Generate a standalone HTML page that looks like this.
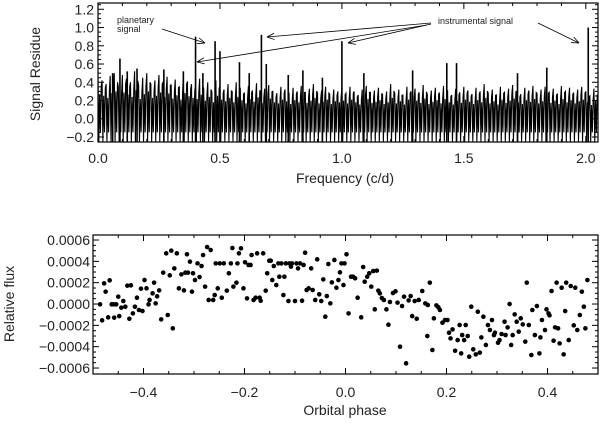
<!DOCTYPE html>
<html><head><meta charset="utf-8"><style>
body{margin:0;background:#fff;}
svg text{font-family:"Liberation Sans",sans-serif;fill:#222;}
</style></head><body>
<svg id="fig" width="600" height="419" xmlns="http://www.w3.org/2000/svg"></svg>
<script>
// ---------- Top panel data ----------
const binStep = 2.05/123;
const noiseMax = [0.45,0.42,0.38,0.47,0.50,0.35,0.48,0.44,0.40,0.52,0.36,0.45,0.50,0.38,0.42,0.48,0.40,0.46,0.37,0.43,0.35,0.47,0.41,0.38,
0.36,0.44,0.33,0.40,0.30,0.42,0.35,0.32,0.38,0.30,0.40,0.34,0.28,0.36,0.31,0.39,0.29,0.33,0.37,0.30,0.28,0.35,0.32,0.27,0.34,0.30,0.36,0.29,0.33,0.38,0.28,0.31,0.35,0.27,0.32,0.30,
0.33,0.28,0.35,0.30,0.26,0.32,0.36,0.29,0.31,0.34,0.27,0.30,0.38,0.28,0.32,0.26,0.35,0.30,0.33,0.29,0.37,0.27,0.31,0.34,0.28,0.36,0.30,0.26,0.33,0.29,0.35,0.31,0.27,0.34,0.30,0.38,0.28,0.32,0.26,0.35,0.29,0.33,0.37,0.30,0.27,0.34,0.31,0.36,0.28,0.32,0.35,0.29,0.33,0.27,0.36,0.30,0.34,0.28,0.32,0.35,0.30,0.25,0.33];
const peakFreq = [0.06,0.09,0.12,0.16,0.27,0.35,0.40,0.43,0.48,0.50,0.58,0.62,0.67,0.69,0.78,0.84,0.92,1.00,1.09,1.29,1.43,1.47,1.72,1.84,2.01];
const peakVal  = [0.50,0.66,0.52,0.55,0.54,0.52,0.90,0.50,0.85,0.74,0.62,0.50,0.92,0.60,0.48,0.53,0.45,0.85,0.50,0.53,0.61,0.61,0.50,0.56,1.00];
const topYTicks = [-0.2,0.0,0.2,0.4,0.6,0.8,1.0,1.2];
const topXTicks = [0.0,0.5,1.0,1.5,2.0];

// ---------- Bottom panel data ----------
const phase = [-0.486,-0.482,-0.478,-0.475,-0.467,-0.470,-0.463,-0.459,-0.458,-0.454,-0.450,-0.448,-0.444,-0.440,-0.436,-0.432,-0.428,-0.425,-0.421,-0.417,-0.413,-0.409,-0.405,-0.402,-0.398,-0.394,-0.390,-0.388,-0.382,-0.379,-0.376,-0.373,-0.369,-0.365,-0.361,-0.355,-0.352,-0.348,-0.345,-0.342,-0.339,-0.334,-0.330,-0.325,-0.320,-0.317,-0.314,-0.312,-0.308,-0.304,-0.302,-0.298,-0.293,-0.289,-0.285,-0.282,-0.278,-0.274,-0.271,-0.267,-0.262,-0.259,-0.257,-0.253,-0.249,-0.245,-0.241,-0.235,-0.231,-0.227,-0.224,-0.222,-0.216,-0.214,-0.211,-0.207,-0.202,-0.199,-0.195,-0.192,-0.188,-0.186,-0.182,-0.178,-0.175,-0.170,-0.168,-0.163,-0.158,-0.155,-0.151,-0.148,-0.145,-0.142,-0.137,-0.133,-0.131,-0.127,-0.123,-0.121,-0.118,-0.113,-0.111,-0.108,-0.106,-0.100,-0.097,-0.094,-0.090,-0.086,-0.083,-0.080,-0.077,-0.073,-0.068,-0.065,-0.060,-0.056,-0.052,-0.048,-0.044,-0.040,-0.037,-0.034,-0.030,-0.027,-0.022,-0.018,-0.014,-0.011,-0.008,-0.004,-0.002,0.002,0.006,0.011,0.015,0.019,0.024,0.031,0.035,0.038,0.043,0.047,0.051,0.055,0.058,0.062,0.065,0.068,0.072,0.076,0.081,0.085,0.088,0.094,0.099,0.103,0.108,0.112,0.116,0.120,0.125,0.129,0.132,0.137,0.141,0.145,0.152,0.158,0.162,0.163,0.167,0.172,0.175,0.180,0.184,0.187,0.192,0.197,0.202,0.205,0.208,0.212,0.217,0.222,0.226,0.229,0.231,0.235,0.238,0.242,0.245,0.249,0.253,0.258,0.262,0.266,0.269,0.273,0.278,0.282,0.286,0.290,0.294,0.296,0.302,0.305,0.309,0.315,0.317,0.321,0.325,0.328,0.331,0.335,0.339,0.343,0.347,0.351,0.356,0.359,0.363,0.368,0.370,0.375,0.379,0.384,0.386,0.389,0.395,0.398,0.402,0.404,0.408,0.412,0.415,0.418,0.421,0.424,0.428,0.432,0.435,0.437,0.442,0.446,0.452,0.455,0.459,0.464,0.468,0.472,0.475,0.479];
const flux = [-0.03,-1.53,1.94,1.16,2.22,-1.25,-0.03,-0.03,-1.28,-0.03,0.69,-1.13,-0.34,0.28,-0.25,1.72,-1.38,1.75,-0.88,-0.25,0.59,-0.56,1.44,-0.66,2.25,1.47,-0.03,0.38,1.0,2.0,0.06,0.72,1.28,-1.44,2.94,4.75,-1.03,2.69,5.0,-2.28,3.34,4.75,1.47,2.78,1.28,2.94,4.66,2.94,3.97,1.16,2.88,2.25,3.81,2.53,3.56,4.59,1.63,5.34,0.38,5.06,0.38,0.84,3.81,1.47,3.81,0.59,3.81,1.25,2.88,3.81,5.25,1.63,2.0,3.81,4.75,5.22,1.47,3.91,0.53,3.66,3.66,4.59,0.38,0.59,4.75,0.59,0.31,4.75,1.25,2.88,4.06,4.06,2.25,3.56,1.78,3.81,2.56,3.81,0.84,2.56,3.81,0.28,3.81,3.5,3.81,0.28,3.81,3.34,3.81,0.31,3.66,4.81,1.31,1.47,3.34,1.31,0.38,4.19,0.91,0.28,2.31,-1.19,0.75,3.75,0.06,2.03,4.13,1.53,2.25,2.97,3.81,1.78,3.81,4.66,-0.88,2.56,2.56,2.41,0.59,-1.25,3.47,2.09,2.56,2.88,1.63,3.09,-0.5,3.13,1.25,1.0,0.56,0.38,-0.5,-1.94,0.19,1.03,1.19,0.13,-4.0,-0.19,0.69,-5.56,0.34,0.75,-1.13,0.28,-1.38,0.38,1.22,0.06,-3.0,-0.09,2.0,-4.31,-1.34,-0.13,-0.31,-0.56,-1.75,-1.5,-1.5,-2.69,-3.22,-2.38,-4.38,-3.38,-1.97,-4.63,-2.91,-3.38,-1.97,-3.0,-4.94,-0.25,-4.25,-4.72,-0.72,-4.56,-3.13,-1.19,-3.84,-1.97,-2.44,-1.5,-2.91,-2.69,-3.63,-3.38,-2.81,-1.66,-2.91,-2.19,0,-3.84,-2.91,-0.97,-1.66,-2.59,-1.34,-1.91,-3.53,2.0,-1.97,-4.78,-0.56,-2.91,-0.19,-4.63,-3.13,-1.5,-2.44,-0.5,-0.88,-1.06,1.22,-3.44,-2.19,2.0,-2.28,-3.69,1.53,-4.72,-0.66,2.0,-3.38,1.69,-2.0,1.53,-2.44,-1.03,1.16,-0.25,-2.28,2.25];
const botYTicks = [-6,-4,-2,0,2,4,6];
const botYLabels = ["\u22120.0006","\u22120.0004","\u22120.0002","0.0000","0.0002","0.0004","0.0006"];
const botXTicks = [-0.4,-0.2,0.0,0.2,0.4];

const NS="http://www.w3.org/2000/svg";
const svg=document.getElementById('fig');
function el(tag,attrs,parent){const e=document.createElementNS(NS,tag);for(const k in attrs)e.setAttribute(k,attrs[k]);(parent||svg).appendChild(e);return e;}
function fmt(v,d){const s=Math.abs(v).toFixed(d);return (v<0?"\u2212":"")+s;}

// ---- Top axes ----
const T={l:98,r:598,t:3,b:142,x0:0,x1:2.05,y0:-0.255,y1:1.269};
const tx=v=>T.l+(v-T.x0)/(T.x1-T.x0)*(T.r-T.l);
const ty=v=>T.b-(v-T.y0)/(T.y1-T.y0)*(T.b-T.t);
const gTop=el('g',{});


let pts=[];
for(let i=0;i<noiseMax.length;i++){
  const f=i*binStep, w=(tx(binStep)-tx(0));
  const m=noiseMax[i];
  pts.push(tx(f)+','+ty(m));
  pts.push((tx(f)+w*0.2)+','+ty(-0.25));
  pts.push((tx(f)+w*0.4)+','+ty(m*0.6));
  pts.push((tx(f)+w*0.6)+','+ty(-0.15));
  pts.push((tx(f)+w*0.8)+','+ty(m*0.8));
}
const sig=el('polyline',{points:pts.join(' '),fill:'none',stroke:'#000','stroke-width':1.1},gTop);


for(let i=0;i<peakFreq.length;i++){
  const pk=el('line',{x1:tx(peakFreq[i]),x2:tx(peakFreq[i]),y1:ty(-0.25),y2:ty(peakVal[i]),stroke:'#000','stroke-width':1.6},gTop);
  
  
}
function frame(P,parent){
  const r=el('rect',{x:P.l,y:P.t,width:P.r-P.l,height:P.b-P.t,fill:'none',stroke:'#000','stroke-width':1.2},parent);
  
  
}
el('rect',{x:0,y:0,width:T.l,height:150,fill:'#fff'},gTop);
el('rect',{x:T.r,y:0,width:2,height:150,fill:'#fff'},gTop);
frame(T,gTop);
for(let k=-4;k<=25;k++){const v=k*0.05;const y=ty(v);const maj=(k%4===0);const L=maj?6:3;
  el('line',{x1:T.l,x2:T.l+L,y1:y,y2:y,stroke:'#000'},gTop);el('line',{x1:T.r,x2:T.r-L,y1:y,y2:y,stroke:'#000'},gTop);}
for(let k=0;k<=20;k++){const v=k*0.1;const x=tx(v);const maj=(k%5===0);const L=maj?6:3;
  el('line',{x1:x,x2:x,y1:T.b,y2:T.b-L,stroke:'#000'},gTop);el('line',{x1:x,x2:x,y1:T.t,y2:T.t+L,stroke:'#000'},gTop);}
topYTicks.forEach(v=>{const t=el('text',{x:T.l-4,y:ty(v)+5,'text-anchor':'end','font-size':14},gTop);t.textContent=fmt(v,1);
  });
topXTicks.forEach(v=>{const t=el('text',{x:tx(v),y:163,'text-anchor':'middle','font-size':14},gTop);t.textContent=fmt(v,1);
  });
let a=el('text',{x:0,y:0,'text-anchor':'middle','font-size':14,transform:'translate(40,74) rotate(-90)'},gTop);a.textContent='Signal Residue';

a=el('text',{x:345,y:183,'text-anchor':'middle','font-size':14},gTop);a.textContent='Frequency (c/d)';

const ann=el('g',{},gTop);


a=el('text',{x:117,y:23,'font-size':9},ann);a.textContent='planetary';

a=el('text',{x:117,y:32,'font-size':9},ann);a.textContent='signal';
a=el('text',{x:438,y:24,'font-size':9},ann);a.textContent='instrumental signal';

function arrow(x1,y1,x2,y2){
  el('line',{x1,y1,x2,y2,stroke:'#000','stroke-width':0.8},ann);
  const ang=Math.atan2(y2-y1,x2-x1),L=8,s=0.4;
  [ang+Math.PI-s,ang+Math.PI+s].forEach(b=>el('line',{x1:x2,y1:y2,x2:x2+L*Math.cos(b),y2:y2+L*Math.sin(b),stroke:'#000','stroke-width':0.8},ann));
}
arrow(162,29,205,43);arrow(431,23,267,37);arrow(431,24,348,43);arrow(427,25,197,62);arrow(538,23,579,43);

// ---- Bottom axes ----
const B={l:93,r:598,t:235,b:374,x0:-0.5,x1:0.5,y0:-6.56,y1:6.47};
const bx=v=>B.l+(v-B.x0)/(B.x1-B.x0)*(B.r-B.l);
const by=v=>B.b-(v-B.y0)/(B.y1-B.y0)*(B.b-B.t);
const gB=el('g',{});


frame(B,gB);
for(let k=-12;k<=12;k++){const v=k*0.5;const y=by(v);const maj=(k%4===0);const L=maj?6:3;
  el('line',{x1:B.l,x2:B.l+L,y1:y,y2:y,stroke:'#000'},gB);el('line',{x1:B.r,x2:B.r-L,y1:y,y2:y,stroke:'#000'},gB);}
for(let k=-10;k<=10;k++){const v=k*0.05;const x=bx(v);const maj=(k%4===0);const L=maj?6:3;
  el('line',{x1:x,x2:x,y1:B.b,y2:B.b-L,stroke:'#000'},gB);el('line',{x1:x,x2:x,y1:B.t,y2:B.t+L,stroke:'#000'},gB);}
botYTicks.forEach((v,i)=>{const t=el('text',{x:B.l-3,y:by(v)+5,'text-anchor':'end','font-size':14},gB);t.textContent=botYLabels[i];
  });
botXTicks.forEach(v=>{const t=el('text',{x:bx(v),y:397,'text-anchor':'middle','font-size':14},gB);t.textContent=fmt(v,1);
  });
a=el('text',{x:0,y:0,'text-anchor':'middle','font-size':14,transform:'translate(14,304) rotate(-90)'},gB);a.textContent='Relative flux';

a=el('text',{x:345,y:415,'text-anchor':'middle','font-size':14},gB);a.textContent='Orbital phase';

for(let i=0;i<phase.length;i++){
  const c=el('circle',{cx:bx(phase[i]),cy:by(flux[i]),r:2.3,fill:'#000'},gB);
  
  
}
</script>
</body></html>
